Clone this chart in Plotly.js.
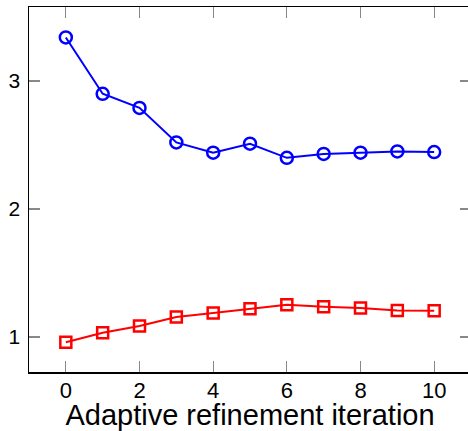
<!DOCTYPE html>
<html>
<head>
<meta charset="utf-8">
<script src="https://cdn.plot.ly/plotly-3.0.1.min.js"></script>
<style>html,body{margin:0;padding:0;overflow:hidden;background:#fff;}</style>
</head>
<body>
<div id="chart"></div>
<script>
const iterations = [0, 1, 2, 3, 4, 5, 6, 7, 8, 9, 10];
const blueSeries = [3.34, 2.90, 2.79, 2.52, 2.44, 2.51, 2.40, 2.43, 2.44, 2.45, 2.445];
const redSeries = [0.96, 1.034, 1.086, 1.156, 1.188, 1.221, 1.252, 1.237, 1.227, 1.208, 1.205];
const xTickVals = [0, 2, 4, 6, 8, 10];
const yTickVals = [1, 2, 3];
const xTitle = "Adaptive refinement iteration";

const font = "Liberation Sans, Arial, Helvetica, sans-serif";

const traces = [
  {
    x: iterations, y: blueSeries, type: "scatter", mode: "lines+markers",
    line: {color: "#0000ff", width: 2},
    marker: {symbol: "circle-open", size: 12, color: "#0000ff", line: {width: 2.5, color: "#0000ff"}},
    showlegend: false, cliponaxis: false
  },
  {
    x: iterations, y: redSeries, type: "scatter", mode: "lines+markers",
    line: {color: "#ff0000", width: 2},
    marker: {symbol: "square-open", size: 11, color: "#ff0000", line: {width: 2.5, color: "#ff0000"}},
    showlegend: false, cliponaxis: false
  }
];

const layout = {
  width: 472, height: 431,
  margin: {l: 29, r: 1, t: 7, b: 59, pad: 0},
  paper_bgcolor: "#fff", plot_bgcolor: "#fff",
  font: {family: font, size: 21, color: "#000"},
  xaxis: {
    range: [-1, 11], tickvals: xTickVals, ticktext: xTickVals.map(String),
    ticks: "inside", ticklen: 11, tickwidth: 1.2, tickcolor: "#888",
    showline: true, linecolor: "#000", linewidth: 1.5, mirror: "allticks",
    showgrid: false, zeroline: false, ticklabelstandoff: -2,
    tickfont: {family: font, size: 22, color: "#000"},
    title: {text: xTitle, font: {family: font, size: 29, color: "#000"}, standoff: 0},
    automargin: false
  },
  yaxis: {
    range: [0.727, 3.578], tickvals: yTickVals, ticktext: yTickVals.map(String),
    ticks: "inside", ticklen: 11, tickwidth: 1.2, tickcolor: "#888",
    showline: true, linecolor: "#000", linewidth: 1.5, mirror: "allticks",
    showgrid: false, zeroline: false, ticklabelstandoff: 3,
    tickfont: {family: font, size: 21, color: "#000"},
    automargin: false
  }
};

Plotly.newPlot("chart", traces, layout, {displayModeBar: false, staticPlot: true});
</script>
</body>
</html>
